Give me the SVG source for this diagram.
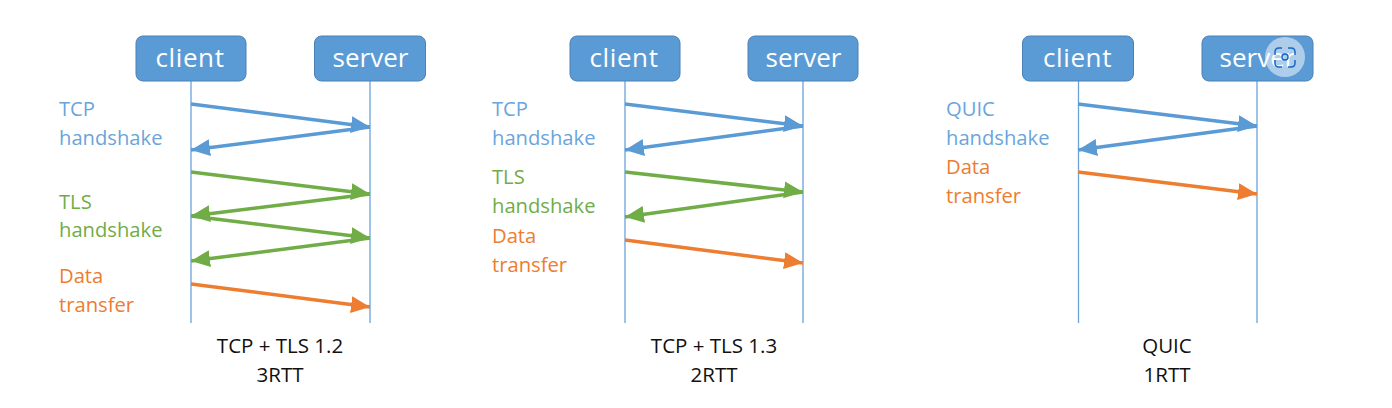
<svg xmlns="http://www.w3.org/2000/svg" width="1392" height="408" viewBox="0 0 1392 408">
<style>
text{font-family:"Open Sans","Noto Sans","Liberation Sans",sans-serif}
.box{fill:#5b9bd5;stroke:#4a80b3;stroke-width:1}
.bt{fill:#fff;font-size:26px;text-anchor:middle}
.cl{letter-spacing:.6px}
.life{stroke:#6aa3d9;stroke-width:1.3;fill:none}
.l{font-size:20.200px}
.b{fill:#6aa5dc}.g{fill:#70ad47}.o{fill:#ed7d31}
.c{font-size:20.500px;fill:#111;text-anchor:middle}
.ab{stroke:#5b9bd5}.ag{stroke:#70ad47}.ao{stroke:#ed7d31}
.a{stroke-width:3.500;fill:none}
.ab{marker-end:url(#mb)}.ag{marker-end:url(#mg)}.ao{marker-end:url(#mo)}
</style>
<defs>
<marker id="mb" markerUnits="userSpaceOnUse" markerWidth="21" markerHeight="18" refX="19" refY="8.500" orient="auto"><path d="M0 0L19 8.500L0 17z" fill="#5b9bd5"/></marker>
<marker id="mg" markerUnits="userSpaceOnUse" markerWidth="21" markerHeight="18" refX="19" refY="8.500" orient="auto"><path d="M0 0L19 8.500L0 17z" fill="#70ad47"/></marker>
<marker id="mo" markerUnits="userSpaceOnUse" markerWidth="21" markerHeight="18" refX="19" refY="8.500" orient="auto"><path d="M0 0L19 8.500L0 17z" fill="#ed7d31"/></marker>
</defs>
<rect width="1392" height="408" fill="#fff"/>
<g id="connectors">
<path class="life" d="M191 81V323M370 81V323M625 81V323M803 81V323M1078.500 81V323M1257 81V323"/>
<path class="a ab" d="M191 104L370 127"/><path class="a ab" d="M370 127L191 150"/>
<path class="a ag" d="M191 172L370 194"/><path class="a ag" d="M370 194L191 216"/>
<path class="a ag" d="M191 216L370 238"/><path class="a ag" d="M370 238L191 261"/>
<path class="a ao" d="M191 284L370 307"/>
<path class="a ab" d="M625 104L803 126"/><path class="a ab" d="M803 126L625 150"/>
<path class="a ag" d="M625 172L803 192"/><path class="a ag" d="M803 192L625 217"/>
<path class="a ao" d="M625 240L803 263"/>
<path class="a ab" d="M1078 104L1257 126"/><path class="a ab" d="M1257 126L1078 150"/>
<path class="a ao" d="M1078 172L1257 194"/>
</g>
<g id="client1"><rect class="box" x="136" y="36" width="110" height="45" rx="7"/><text class="bt cl" x="190" y="67">client</text></g>
<g id="server1"><rect class="box" x="314.500" y="36" width="111" height="45" rx="7"/><text class="bt" x="370.500" y="67">server</text></g>
<g id="client2"><rect class="box" x="570" y="36" width="110" height="45" rx="7"/><text class="bt cl" x="624" y="67">client</text></g>
<g id="server2"><rect class="box" x="748" y="36" width="110" height="45" rx="7"/><text class="bt" x="803.500" y="67">server</text></g>
<g id="client3"><rect class="box" x="1022.500" y="36" width="111" height="45" rx="7"/><text class="bt cl" x="1077.500" y="67">client</text></g>
<g id="server3"><rect class="box" x="1202" y="36" width="111" height="45" rx="7"/><text class="bt" x="1257.500" y="67">server</text></g>
<g id="labels1">
<text class="l b" x="59" y="116">TCP</text><text class="l b" x="59" y="145">handshake</text>
<text class="l g" x="59" y="209">TLS</text><text class="l g" x="59" y="237">handshake</text>
<text class="l o" x="59" y="283">Data</text><text class="l o" x="59" y="312">transfer</text>
<text class="c" x="280" y="353">TCP + TLS 1.2</text><text class="c" x="280" y="382">3RTT</text>
</g>
<g id="labels2">
<text class="l b" x="492" y="116">TCP</text><text class="l b" x="492" y="145">handshake</text>
<text class="l g" x="492" y="184">TLS</text><text class="l g" x="492" y="213">handshake</text>
<text class="l o" x="492" y="243">Data</text><text class="l o" x="492" y="272">transfer</text>
<text class="c" x="714" y="353">TCP + TLS 1.3</text><text class="c" x="714" y="382">2RTT</text>
</g>
<g id="labels3">
<text class="l b" x="946" y="116">QUIC</text><text class="l b" x="946" y="145">handshake</text>
<text class="l o" x="946" y="174">Data</text><text class="l o" x="946" y="203">transfer</text>
<text class="c" x="1167" y="353">QUIC</text><text class="c" x="1167" y="382">1RTT</text>
</g>
<g id="lens-overlay">
<circle cx="1285" cy="57" r="20" fill="#fff" fill-opacity=".5"/>
<path d="M1275 55V52Q1275 48 1279 48H1282M1288 48H1291Q1295 48 1295 52V55M1295 60V63Q1295 67 1291 67H1288M1282 67H1279Q1275 67 1275 63V60" fill="none" stroke="#1a66c4" stroke-width="1.500"/>
<circle cx="1285" cy="57" r="3" fill="none" stroke="#1a66c4" stroke-width="1.500"/>
</g>
</svg>
